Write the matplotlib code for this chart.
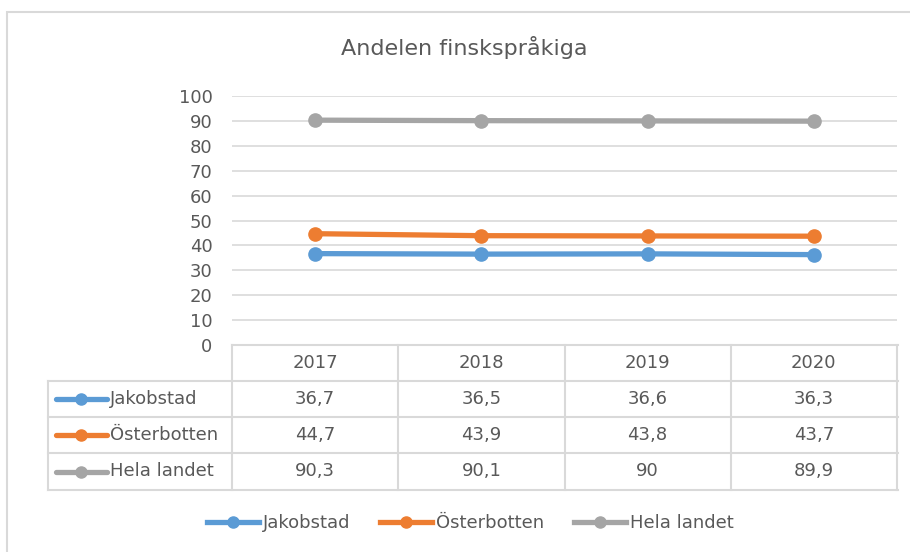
import matplotlib.pyplot as plt
from matplotlib.lines import Line2D
from matplotlib.patches import Rectangle
from matplotlib import transforms

years = ['2017', '2018', '2019', '2020']
series_names = ['Jakobstad', 'Österbotten', 'Hela landet']
jakobstad = [36.7, 36.5, 36.6, 36.3]
osterbotten = [44.7, 43.9, 43.8, 43.7]
hela_landet = [90.3, 90.1, 90.0, 89.9]
series = [jakobstad, osterbotten, hela_landet]
colors = ['#5B9BD5', '#ED7D31', '#A5A5A5']

text_color = '#595959'
grid_color = '#d9d9d9'
fs = 13

W, H = 910, 552
fig = plt.figure(figsize=(W / 100, H / 100), dpi=100)


def fx(px):
    return px / W


def fy(py):
    return 1 - py / H


# chart frame
fig.patches.append(Rectangle((fx(7), fy(570)), fx(930) - fx(7), fy(12) - fy(570),
                             transform=fig.transFigure, fill=False,
                             edgecolor=grid_color, lw=1.5))

fig.text(fx(464), fy(48), 'Andelen finskspråkiga', fontsize=16,
         color=text_color, ha='center', va='center')

ax = fig.add_axes([fx(232), fy(345), fx(897) - fx(232), (345 - 96) / H])
x = list(range(len(years)))
for vals, c in zip(series, colors):
    ax.plot(x, vals, color=c, lw=3.8, marker='o', ms=9.5, solid_capstyle='round', zorder=3)

ax.set_xlim(-0.5, len(years) - 0.5)
ax.set_ylim(0, 100)
ax.set_yticks(range(0, 101, 10))
ax.set_xticks([])
ax.grid(axis='y', color=grid_color, lw=1.2)
ax.set_axisbelow(True)
for s in ax.spines.values():
    s.set_visible(False)
ax.tick_params(axis='y', length=0, pad=14, labelsize=fs, labelcolor=text_color)

# data table under the plot
tr = transforms.blended_transform_factory(ax.transData, fig.transFigure)
row_edges = [345, 381, 417, 453, 490]
left_px = 48

for i in range(len(years) + 1):
    xe = i - 0.5
    fig.add_artist(Line2D([xe, xe], [fy(345), fy(490)], transform=tr,
                          color=grid_color, lw=1.5))
fig.add_artist(Line2D([fx(left_px)] * 2, [fy(381), fy(490)], transform=fig.transFigure,
                      color=grid_color, lw=1.5))
for k, ye in enumerate(row_edges):
    x0 = fx(232) if k == 0 else fx(left_px)
    fig.add_artist(Line2D([x0, fx(898)], [fy(ye)] * 2, transform=fig.transFigure,
                          color=grid_color, lw=1.5))

for i, yr in enumerate(years):
    fig.text(i, fy((row_edges[0] + row_edges[1]) / 2), yr, transform=tr,
             ha='center', va='center', fontsize=fs, color=text_color)

for r, (name, vals, c) in enumerate(zip(series_names, series, colors)):
    yc = fy((row_edges[r + 1] + row_edges[r + 2]) / 2)
    fig.add_artist(Line2D([fx(56), fx(107)], [yc, yc], transform=fig.transFigure,
                          color=c, lw=3.8, solid_capstyle='round'))
    fig.add_artist(Line2D([fx(81)], [yc], transform=fig.transFigure,
                          color=c, marker='o', ms=8))
    fig.text(fx(110), yc, name, ha='left', va='center', fontsize=fs, color=text_color)
    for i, v in enumerate(vals):
        fig.text(i, yc, f'{v:g}'.replace('.', ','), transform=tr,
                 ha='center', va='center', fontsize=fs, color=text_color)

handles = [Line2D([], [], color=c, lw=3.8, marker='o', ms=8) for c in colors]
fig.legend(handles, series_names, ncol=3, loc='center',
           bbox_to_anchor=(fx(470), fy(523)), frameon=False, fontsize=fs,
           handlelength=2.9, handletextpad=0.2, columnspacing=1.65,
           labelcolor=text_color)

fig.savefig('out.png', dpi=100)
